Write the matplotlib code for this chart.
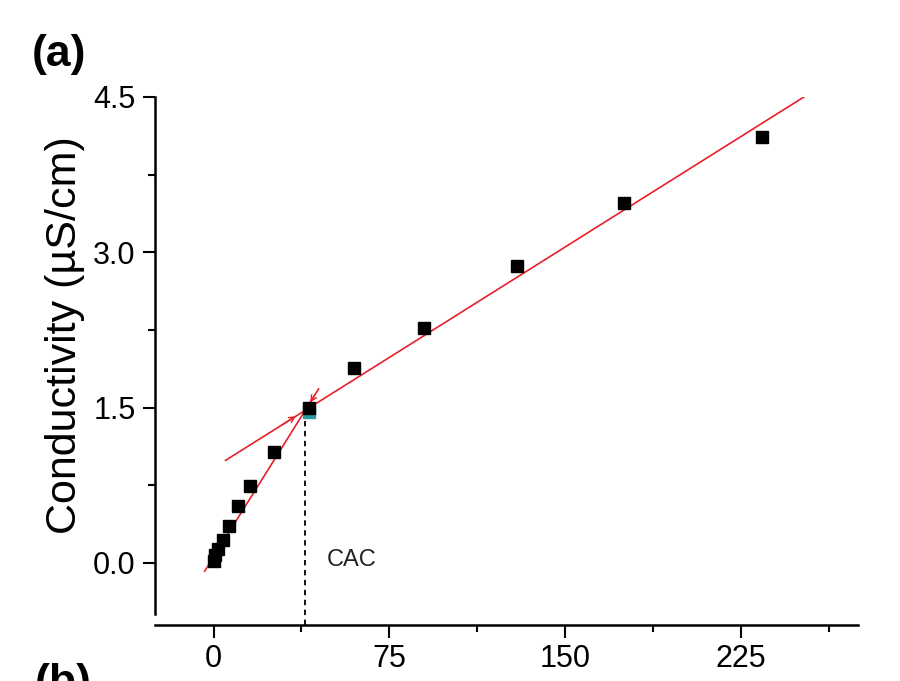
import matplotlib
matplotlib.use("Agg")
import matplotlib.pyplot as plt
import numpy as np
from matplotlib.ticker import MultipleLocator

plt.rcParams['font.family'] = ['Liberation Sans', 'DejaVu Sans']

# data
conc = [0, 0.6, 1.8, 4.0, 6.5, 10.3, 15.7, 25.6, 40.9, 60.0, 89.8, 129.4, 175.0, 234.2]
cond = [0.02, 0.08, 0.13, 0.22, 0.36, 0.55, 0.74, 1.07, 1.50, 1.88, 2.27, 2.87, 3.48, 4.11]

# linear fits (slope, intercept, x-range)
fit_hi_slope, fit_hi_icpt = 0.01422, 0.9175
fit_hi_range = [5.1, 252.0]
fit_lo_slope, fit_lo_icpt = 0.0362, 0.0576
fit_lo_range = [-3.8, 44.8]

xticks = [0, 75, 150, 225]
yticks = [0.0, 1.5, 3.0, 4.5]
ytick_labels = ['0.0', '1.5', '3.0', '4.5']

fig = plt.figure(figsize=(9, 6.81), dpi=100)
ax = fig.add_axes([0.1722, 0.0822, 0.9533 - 0.1722, 0.8576 - 0.0822])

red = '#e8202a'
# fit lines
xh = np.array(fit_hi_range)
ax.plot(xh, fit_hi_slope * xh + fit_hi_icpt, color=red, lw=1.2, zorder=2)
xl = np.array(fit_lo_range)
ax.plot(xl, fit_lo_slope * xl + fit_lo_icpt, color=red, lw=1.2, zorder=2)

cac = (fit_hi_icpt - fit_lo_icpt) / (fit_lo_slope - fit_hi_slope)
ycac = fit_lo_slope * cac + fit_lo_icpt

# arrowheads pointing at the intersection
xa = cac - 3.0
ax.annotate('', xy=(xa, fit_hi_slope * xa + fit_hi_icpt),
            xytext=(xa - 8, fit_hi_slope * (xa - 8) + fit_hi_icpt),
            arrowprops=dict(arrowstyle='->', color=red, lw=1.0, mutation_scale=10), zorder=3)
xb = cac + 1.5
ax.annotate('', xy=(xb, fit_lo_slope * xb + fit_lo_icpt),
            xytext=(xb + 3, fit_lo_slope * (xb + 3) + fit_lo_icpt),
            arrowprops=dict(arrowstyle='->', color=red, lw=1.0, mutation_scale=10), zorder=3)

# cyan marker under CAC point
ax.plot([conc[8] - 0.3], [cond[8] - 0.04], 's', color='#2a9d9a', ms=8, zorder=3)
# data points
ax.plot(conc, cond, 's', color='black', ms=8.5, zorder=4)

# dashed CAC line
ax.plot([cac, cac], [-0.6, ycac], color='black', lw=1.3, ls=(0, (3, 2.5)), zorder=1)
ax.text(cac + 9, 0.03, 'CAC', fontsize=17, va='center', ha='left', color='#222222')

ax.set_xlim(-25, 275)
ax.set_ylim(-0.6, 4.5)
ax.set_xticks(xticks)
ax.set_yticks(yticks)
ax.set_yticklabels(ytick_labels)
ax.xaxis.set_minor_locator(MultipleLocator(37.5))
ax.yaxis.set_minor_locator(MultipleLocator(0.75))
ax.tick_params(which='major', length=9, width=1.5, labelsize=22, direction='out', pad=5)
ax.tick_params(which='minor', length=5, width=1.5, direction='out')

for s in ['top', 'right']:
    ax.spines[s].set_visible(False)
ax.spines['left'].set_linewidth(1.8)
ax.spines['bottom'].set_linewidth(1.8)
ax.spines['left'].set_bounds(-0.49, 4.5)

ax.set_ylabel('Conductivity (µS/cm)', fontsize=31)
ax.yaxis.set_label_coords(-0.128, 0.549)
ax.yaxis.label.set_va('center')

fig.text(0.0356, 0.903, '(a)', fontsize=32, fontweight='bold', ha='left', va='baseline')
fig.text(0.039, -0.0206, '(b)', fontsize=32, fontweight='bold', ha='left', va='baseline')

fig.savefig('out.png', dpi=100)
